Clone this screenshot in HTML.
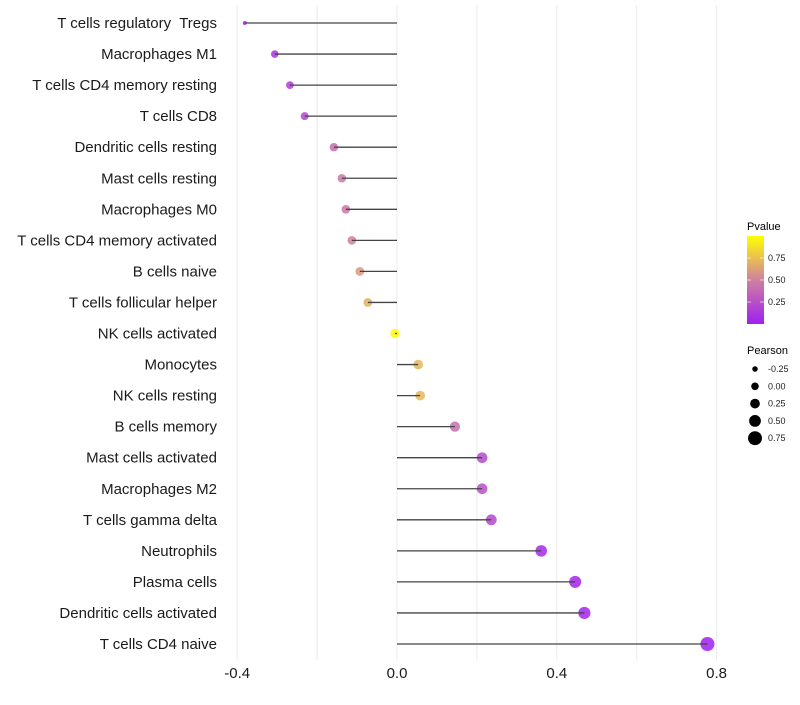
<!DOCTYPE html>
<html><head><meta charset="utf-8"><style>
body{margin:0;background:#fff;font-family:"Liberation Sans",sans-serif}
svg text{font-family:"Liberation Sans",sans-serif;white-space:pre}
</style></head><body>
<svg id="c" width="800" height="700"></svg>
<script>
const categories=["T cells regulatory  Tregs","Macrophages M1","T cells CD4 memory resting","T cells CD8","Dendritic cells resting","Mast cells resting","Macrophages M0","T cells CD4 memory activated","B cells naive","T cells follicular helper","NK cells activated","Monocytes","NK cells resting","B cells memory","Mast cells activated","Macrophages M2","T cells gamma delta","Neutrophils","Plasma cells","Dendritic cells activated","T cells CD4 naive"];
const pearson=[-0.381,-0.306,-0.268,-0.231,-0.158,-0.138,-0.128,-0.113,-0.093,-0.073,-0.005,0.053,0.058,0.145,0.213,0.213,0.236,0.361,0.446,0.469,0.777];
const pvalue=[0.02,0.1,0.15,0.2,0.4,0.45,0.45,0.5,0.6,0.7,0.98,0.72,0.72,0.4,0.22,0.25,0.2,0.05,0.02,0.02,0.001];
const xTicks=[-0.4,0.0,0.4,0.8];
const xTickLabels=["-0.4","0.0","0.4","0.8"];
const legendPearson=[-0.25,0,0.25,0.5,0.75];
const legendPearsonLabels=["-0.25","0.00","0.25","0.50","0.75"];
const legendP=[0.25,0.5,0.75];

const svg=document.getElementById('c');const NS='http://www.w3.org/2000/svg';
function mk(t,a,p){const e=document.createElementNS(NS,t);for(const k in a)e.setAttribute(k,a[k]);(p||svg).appendChild(e);return e;}
const x=v=>397+v*399.5;
const y=i=>23+i*31.05;
const r=v=>Math.max(1.5,3.8+4.2*v);
const rp=v=>v<-0.35?2:Math.max(2.5,4.7+3*v);
function col(p){const stops=[[0,[160,32,240]],[0.5,[208,128,160]],[1,[255,255,0]]];
 let a=stops[0],b=stops[1];if(p>0.5){a=stops[1];b=stops[2];}
 const t=(p-a[0])/(b[0]-a[0]);const c=a[1].map((v,k)=>Math.round(v+(b[1][k]-v)*t));return `rgb(${c})`;}
for(let v=-0.4;v<=0.81;v+=0.2){const g=mk('line',{x1:x(v),x2:x(v),y1:5,y2:660,stroke:'#ebebeb','stroke-width':1});
}
categories.forEach((c,i)=>{
 const t=mk('text',{x:217,y:y(i)+5,'text-anchor':'end','font-size':15,fill:'#1a1a1a'});t.textContent=c;
 
 const ci=mk('circle',{cx:x(pearson[i]),cy:y(i),r:rp(pearson[i]),fill:col(pvalue[i]),'fill-opacity':0.85});
 
 const l=mk('line',{x1:x(0),x2:x(pearson[i]),y1:y(i),y2:y(i),stroke:'#444','stroke-width':1.3});
 
});
xTicks.forEach((v,i)=>{const t=mk('text',{x:x(v),y:678,'text-anchor':'middle','font-size':15,fill:'#1a1a1a'});t.textContent=xTickLabels[i];
});
const lt=mk('text',{x:747,y:230,'font-size':11,fill:'#000'});lt.textContent='Pvalue';

const defs=mk('defs',{});const gr=mk('linearGradient',{id:'gp',x1:0,y1:1,x2:0,y2:0},defs);
[0,0.25,0.5,0.75,1].forEach(p=>mk('stop',{offset:p,'stop-color':col(p)},gr));
const cb=mk('rect',{x:747,y:236,width:17,height:88,fill:'url(#gp)'});

const py=p=>324-p*88;
legendP.forEach(p=>{mk('line',{x1:747,x2:751,y1:py(p),y2:py(p),stroke:'#fff','stroke-opacity':0.6});mk('line',{x1:760,x2:764,y1:py(p),y2:py(p),stroke:'#fff','stroke-opacity':0.6});
 const t=mk('text',{x:768,y:py(p)+3,'font-size':9,fill:'#222'});t.textContent=p.toFixed(2);
 });
const st=mk('text',{x:747,y:354,'font-size':11,fill:'#000'});st.textContent='Pearson';

legendPearson.forEach((v,i)=>{const cy=369+i*17.3;
 const c=mk('circle',{cx:755,cy:cy,r:r(v),fill:'#000'});
 const t=mk('text',{x:768,y:cy+3,'font-size':9,fill:'#222'});t.textContent=legendPearsonLabels[i];
 });
</script>
</body></html>
